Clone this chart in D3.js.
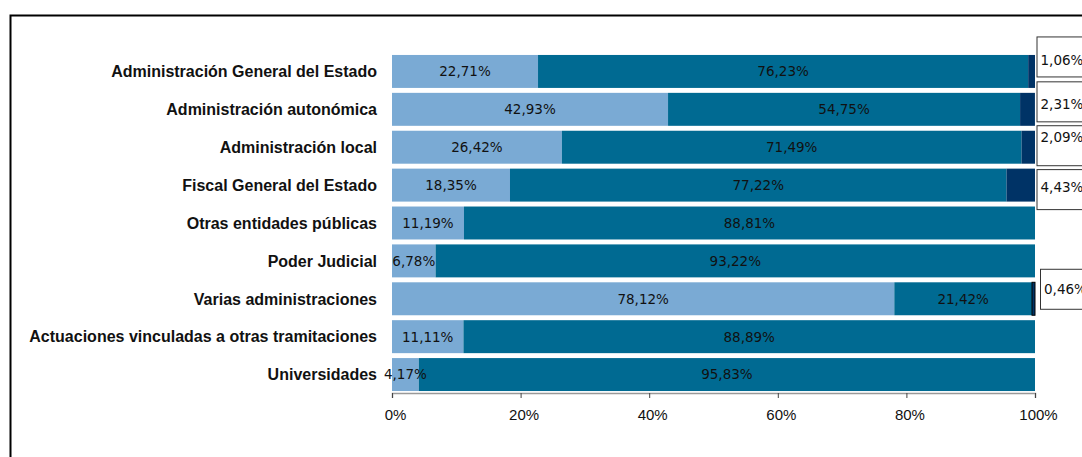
<!DOCTYPE html>
<html>
<head>
<meta charset="utf-8">
<script src="https://cdn.jsdelivr.net/npm/d3@7/dist/d3.min.js"></script>
<style>
  html, body { margin: 0; padding: 0; background: #fff; }
  svg { display: block; }
</style>
</head>
<body>
<svg id="chart" width="1082" height="457"></svg>
<script>
// ---- data ----
const categories = [
  "Administración General del Estado",
  "Administración autonómica",
  "Administración local",
  "Fiscal General del Estado",
  "Otras entidades públicas",
  "Poder Judicial",
  "Varias administraciones",
  "Actuaciones vinculadas a otras tramitaciones",
  "Universidades"
];
const serieA = [22.71, 42.93, 26.42, 18.35, 11.19, 6.78, 78.12, 11.11, 4.17];
const serieB = [76.23, 54.75, 71.49, 77.22, 88.81, 93.22, 21.42, 88.89, 95.83];
const serieC = [1.06, 2.31, 2.09, 4.43, 0, 0, 0.46, 0, 0];
const tickValues = [0, 20, 40, 60, 80, 100];

// ---- layout tweaks (callout box placement, not data) ----
const boxShift  = [-15, -8, -2, 4, 0, 0, -10, 0, 0];
const textShift = [4, 3, -8, -2, 0, 0, 0, 0, 0];

const colors = ["#7AAAD4", "#006A92", "#003366"];
const fmt = v => v.toFixed(2).replace(".", ",") + "%";

const svg = d3.select("#chart");

// frame
svg.append("path")
  .attr("d", "M10.5,457 V15.5 H1082")
  .attr("fill", "none").attr("stroke", "#000").attr("stroke-width", 2);

const x = d3.scaleLinear().domain([0, 100]).range([392, 1035]);
const y = d3.scaleBand().domain(categories).range([52.5, 393.5])
  .paddingInner(0.13).paddingOuter(0.065);

const rows = categories.map((c, i) => {
  const vals = [serieA[i], serieB[i], serieC[i]];
  let acc = 0;
  const segs = vals.map((v, k) => {
    const s = { cat: c, i, k, v, x0: acc, x1: acc + v };
    acc += v;
    return s;
  });
  return { cat: c, i, segs };
});

const segs = rows.flatMap(r => r.segs).filter(s => s.v > 0);

// bars
svg.append("g").selectAll("rect").data(segs).join("rect")
  .attr("x", d => x(d.x0))
  .attr("y", d => y(d.cat))
  .attr("width", d => Math.max(0, x(Math.min(100, d.x1)) - x(d.x0)))
  .attr("height", y.bandwidth())
  .attr("fill", d => colors[d.k])
  .attr("stroke", d => (d.k === 2 && d.v < 1) ? "#000" : "none")
  .attr("stroke-width", 1);

// inner labels
svg.append("g").selectAll("text").data(segs.filter(d => d.k < 2)).join("text")
  .attr("x", d => (x(d.x0) + x(d.x1)) / 2)
  .attr("y", d => y(d.cat) + y.bandwidth() / 2)
  .attr("dy", "0.36em")
  .attr("text-anchor", "middle")
  .attr("font-family", "DejaVu Sans, Verdana, sans-serif")
  .attr("font-size", 13.5)
  .attr("fill", "#111")
  .text(d => fmt(d.v));

// callout boxes for third series
const callouts = segs.filter(d => d.k === 2);
const cg = svg.append("g").selectAll("g").data(callouts).join("g")
  .attr("transform", d => {
    const cy = y(d.cat) + y.bandwidth() / 2 + boxShift[d.i];
    const bx = d.v < 1 ? 1040 : 1036.5;
    return `translate(${bx},${cy - 20})`;
  });
cg.append("rect")
  .attr("x", 0.5).attr("y", 0.5).attr("width", 60).attr("height", 40)
  .attr("fill", "#fff").attr("stroke", "#333").attr("stroke-width", 1);
cg.append("text")
  .attr("x", 4)
  .attr("y", d => 20 + textShift[d.i])
  .attr("dy", "0.36em")
  .attr("font-family", "DejaVu Sans, Verdana, sans-serif")
  .attr("font-size", 13.5)
  .attr("fill", "#111")
  .text(d => fmt(d.v));

// category labels
svg.append("g").selectAll("text").data(categories).join("text")
  .attr("x", 377)
  .attr("y", d => y(d) + y.bandwidth() / 2)
  .attr("dy", "0.36em")
  .attr("text-anchor", "end")
  .attr("font-family", "Liberation Sans, Arial, sans-serif")
  .attr("font-weight", "bold")
  .attr("font-size", 16)
  .attr("fill", "#111")
  .text(d => d);

// x axis
const axis = svg.append("g").attr("transform", "translate(0,393)")
  .call(d3.axisBottom(x).tickValues(tickValues).tickSize(5).tickFormat(d => d + "%"));
axis.select(".domain").attr("stroke", "#999").attr("stroke-width", 1.5);
axis.selectAll(".tick line").attr("stroke", "#444");
axis.selectAll(".tick text")
  .attr("font-family", "Liberation Sans, Arial, sans-serif")
  .attr("font-size", 15)
  .attr("fill", "#111")
  .attr("dx", 3)
  .attr("y", 16);
</script>
</body>
</html>
